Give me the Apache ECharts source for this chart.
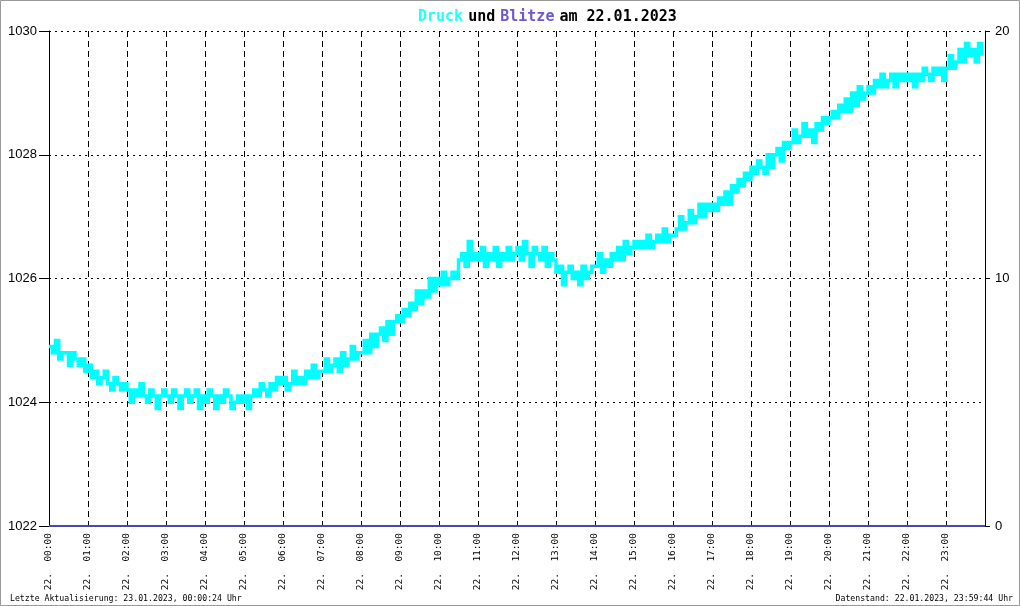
<!DOCTYPE html>
<html><head><meta charset="utf-8">
<script src="https://cdn.jsdelivr.net/npm/echarts@6/dist/echarts.min.js"></script>
<style>html,body{margin:0;padding:0;background:#fff}#c{width:1020px;height:606px}</style>
</head><body><div id="c"></div>
<script>
// Pressure (hPa), one value every 5 minutes, 22.01.2023 00:00 .. 23:55
const druck = [
1024.9,1024.8,1025.0,1024.7,1024.8,1024.8,1024.6,1024.8,1024.7,1024.6,1024.7,1024.5,
1024.6,1024.4,1024.5,1024.3,1024.4,1024.5,1024.3,1024.2,1024.4,1024.3,1024.2,1024.3,
1024.2,1024.0,1024.2,1024.1,1024.3,1024.1,1024.0,1024.2,1024.1,1023.9,1024.1,1024.2,
1024.1,1024.0,1024.2,1024.1,1023.9,1024.1,1024.2,1024.0,1024.1,1024.2,1023.9,1024.1,
1024.0,1024.2,1024.1,1023.9,1024.1,1024.0,1024.2,1024.1,1023.9,1024.0,1024.1,1024.0,
1024.1,1023.9,1024.1,1024.2,1024.1,1024.3,1024.2,1024.1,1024.3,1024.2,1024.4,1024.3,
1024.4,1024.2,1024.3,1024.5,1024.3,1024.4,1024.3,1024.5,1024.4,1024.6,1024.4,1024.5,
1024.5,1024.7,1024.5,1024.6,1024.7,1024.5,1024.8,1024.6,1024.7,1024.9,1024.7,1024.8,
1024.8,1025.0,1024.8,1025.1,1024.9,1025.1,1025.2,1025.0,1025.3,1025.1,1025.3,1025.4,
1025.3,1025.5,1025.4,1025.6,1025.5,1025.8,1025.6,1025.8,1025.7,1026.0,1025.8,1026.0,
1025.9,1026.1,1025.9,1026.0,1026.1,1026.0,1026.3,1026.4,1026.2,1026.6,1026.3,1026.4,
1026.3,1026.5,1026.2,1026.4,1026.3,1026.5,1026.2,1026.4,1026.3,1026.5,1026.3,1026.4,
1026.5,1026.3,1026.6,1026.4,1026.2,1026.5,1026.4,1026.3,1026.5,1026.2,1026.4,1026.3,
1026.1,1026.2,1025.9,1026.1,1026.2,1026.0,1026.1,1025.9,1026.2,1026.0,1026.1,1026.2,
1026.2,1026.4,1026.1,1026.3,1026.2,1026.4,1026.3,1026.5,1026.3,1026.6,1026.4,1026.5,
1026.6,1026.5,1026.6,1026.5,1026.7,1026.5,1026.6,1026.7,1026.6,1026.8,1026.6,1026.7,
1026.7,1026.8,1027.0,1026.8,1026.9,1027.1,1026.9,1027.0,1027.2,1027.0,1027.2,1027.1,
1027.2,1027.1,1027.3,1027.2,1027.4,1027.2,1027.5,1027.4,1027.6,1027.5,1027.7,1027.6,
1027.8,1027.7,1027.9,1027.8,1027.7,1028.0,1027.8,1028.0,1028.1,1027.9,1028.2,1028.1,
1028.2,1028.4,1028.2,1028.3,1028.5,1028.3,1028.4,1028.2,1028.5,1028.4,1028.6,1028.5,
1028.6,1028.7,1028.6,1028.8,1028.7,1028.9,1028.7,1029.0,1028.8,1029.1,1028.9,1029.0,
1029.1,1029.0,1029.2,1029.1,1029.3,1029.1,1029.2,1029.3,1029.1,1029.3,1029.2,1029.3,
1029.2,1029.3,1029.1,1029.3,1029.2,1029.4,1029.3,1029.2,1029.4,1029.3,1029.4,1029.2,
1029.4,1029.6,1029.4,1029.5,1029.7,1029.5,1029.8,1029.6,1029.7,1029.5,1029.8,1029.6
];
const stepMinutes = 5;
// Lightning count per hour (none on this day)
const blitze = [0,0,0,0,0,0,0,0,0,0,0,0,0,0,0,0,0,0,0,0,0,0,0,0,0];
const hourLabels = ['00','01','02','03','04','05','06','07','08','09','10','11','12','13','14','15','16','17','18','19','20','21','22','23'];
const dayPrefix = '22.';
const titleDate = '22.01.2023';
const footerLeft = 'Letzte Aktualisierung: 23.01.2023, 00:00:24 Uhr';
const footerRight = 'Datenstand: 22.01.2023, 23:59:44 Uhr';

const druckData = druck.map((v, i) => [i * stepMinutes, v]);
const blitzeData = blitze.map((v, i) => [i * 60, v]);

const mono = 'DejaVu Sans Mono';
const chart = echarts.init(document.getElementById('c'), null, {renderer: 'canvas'});
chart.setOption({
  animation: false,
  backgroundColor: '#fff',
  title: {
    text: '{a|Druck} {b|und} {c|Blitze} {b|am ' + titleDate + '}',
    left: 413, top: 3,
    textStyle: {
      rich: {
        a: {color: '#22ffff', fontFamily: mono, fontSize: 15},
        b: {color: '#000', fontFamily: mono, fontSize: 15},
        c: {color: '#6a5acd', fontFamily: mono, fontSize: 15}
      }
    }
  },
  grid: {left: 49, right: 35, top: 31, bottom: 80, containLabel: false},
  xAxis: {
    type: 'value', min: 0, max: 1440, interval: 60,
    axisLine: {show: true, lineStyle: {color: '#000', width: 1}},
    axisTick: {show: false},
    splitLine: {show: true, lineStyle: {color: '#000', type: [6, 4], width: 1}},
    axisLabel: {
      rotate: 90, margin: 7, fontFamily: mono, fontSize: 9.5, color: '#000',
      showMaxLabel: false,
      formatter: v => { const h = Math.round(v / 60); return h < 24 ? dayPrefix + '  ' + hourLabels[h] + ':00' : ''; }
    }
  },
  yAxis: [{
    type: 'value', min: 1022, max: 1030, interval: 2, position: 'left',
    axisLine: {show: true, lineStyle: {color: '#000', width: 1}},
    axisTick: {show: true, inside: false, length: 10, lineStyle: {color: '#000'}},
    splitLine: {show: true, lineStyle: {color: '#000', type: [2, 4], width: 1}},
    axisLabel: {margin: 12, fontFamily: 'Liberation Sans', fontSize: 13, color: '#000', formatter: v => String(v)}
  }, {
    type: 'value', min: 0, max: 20, interval: 10, position: 'right',
    axisLine: {show: true, lineStyle: {color: '#000', width: 1}},
    axisTick: {show: true, inside: false, length: 5, lineStyle: {color: '#000'}},
    splitLine: {show: false},
    axisLabel: {margin: 10, fontFamily: 'Liberation Sans', fontSize: 13, color: '#000', formatter: v => String(v)}
  }],
  series: [{
    name: 'Druck', type: 'line', yAxisIndex: 0, data: druckData,
    step: 'end', symbol: 'none',
    lineStyle: {color: '#00ffff', width: 3.5, join: 'miter', cap: 'butt'}, z: 3
  }, {
    name: 'Blitze', type: 'line', yAxisIndex: 1, data: blitzeData,
    symbol: 'none', lineStyle: {color: '#4b45b0', width: 2}, z: 4
  }],
  graphic: [
    {type: 'rect', shape: {x: 0.5, y: 0.5, width: 1019, height: 605}, style: {fill: 'none', stroke: '#999', lineWidth: 1}, silent: true},
    {type: 'text', x: 10, y: 599, style: {text: footerLeft, fontFamily: mono, fontSize: 8.2, fill: '#000', textVerticalAlign: 'middle'}},
    {type: 'text', x: 1013, y: 599, style: {text: footerRight, fontFamily: mono, fontSize: 8.2, fill: '#000', textAlign: 'right', textVerticalAlign: 'middle'}}
  ]
});
</script></body></html>
